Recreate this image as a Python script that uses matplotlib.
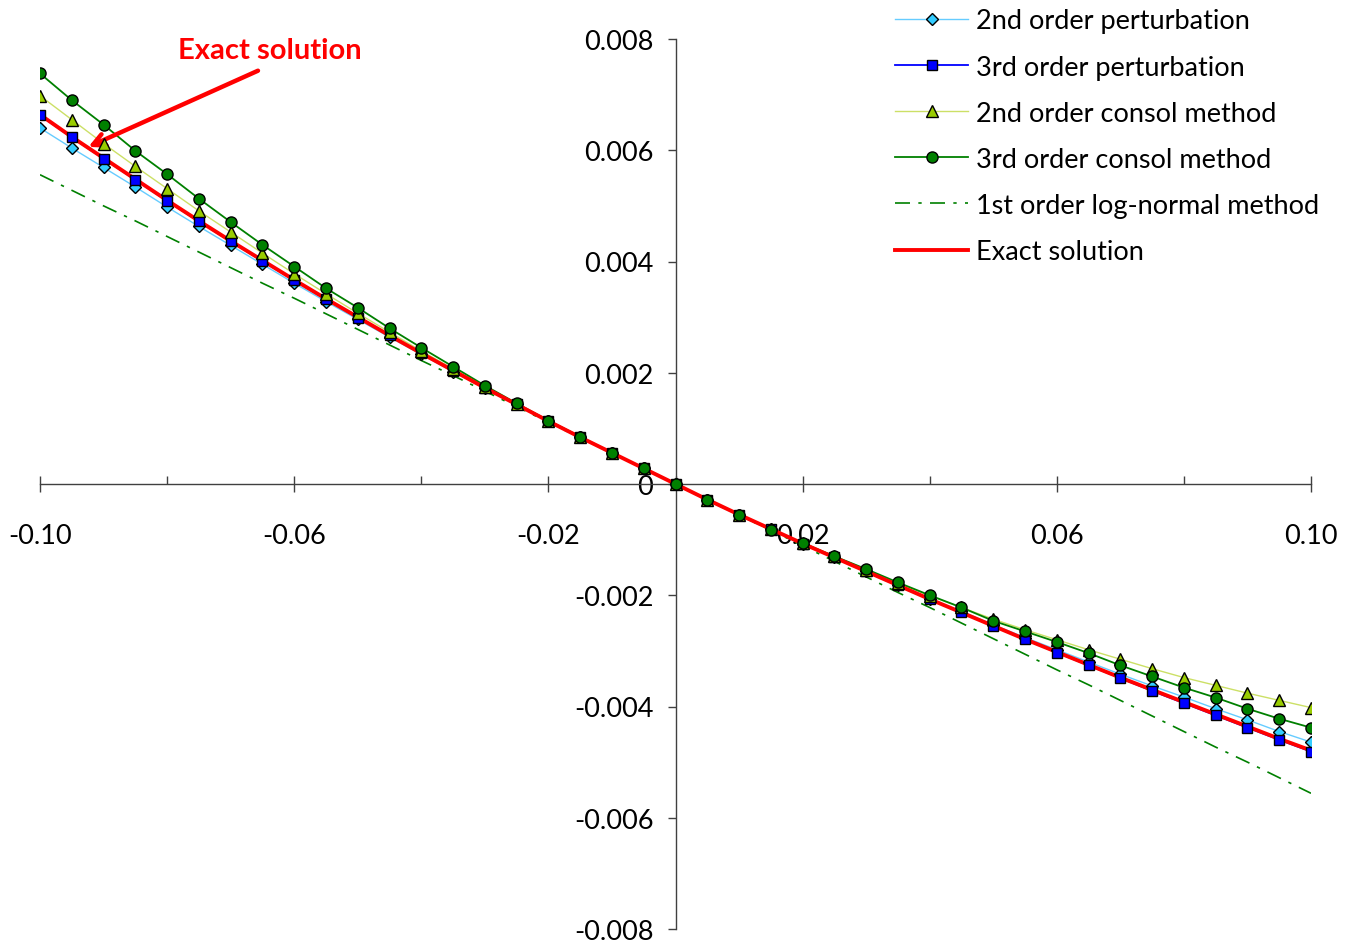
import numpy as np
import matplotlib
matplotlib.use("Agg")
import matplotlib.pyplot as plt
from matplotlib.lines import Line2D

plt.rcParams['font.family'] = ['Lato', 'DejaVu Sans']

# shift values (x) and responses, responses in units of 1e-3
x = [-0.100, -0.095, -0.090, -0.085, -0.080, -0.075, -0.070, -0.065, -0.060, -0.055,
     -0.050, -0.045, -0.040, -0.035, -0.030, -0.025, -0.020, -0.015, -0.010, -0.005,
     0.000, 0.005, 0.010, 0.015, 0.020, 0.025, 0.030, 0.035, 0.040, 0.045,
     0.050, 0.055, 0.060, 0.065, 0.070, 0.075, 0.080, 0.085, 0.090, 0.095, 0.100]

pert2 = [6.40, 6.04, 5.69, 5.34, 4.98, 4.63, 4.29, 3.95, 3.61, 3.28,
         2.96, 2.64, 2.33, 2.02, 1.72, 1.43, 1.13, 0.84, 0.56, 0.28,
         0.00, -0.28, -0.55, -0.81, -1.07, -1.32, -1.57, -1.81, -2.06, -2.29,
         -2.53, -2.76, -2.98, -3.20, -3.42, -3.63, -3.83, -4.04, -4.24, -4.45, -4.64]

pert3 = [6.63, 6.23, 5.85, 5.47, 5.09, 4.72, 4.36, 4.01, 3.66, 3.32,
         2.99, 2.67, 2.35, 2.04, 1.73, 1.43, 1.13, 0.84, 0.56, 0.28,
         0.00, -0.28, -0.55, -0.81, -1.07, -1.32, -1.57, -1.82, -2.07, -2.31,
         -2.55, -2.79, -3.03, -3.26, -3.49, -3.72, -3.94, -4.16, -4.38, -4.60, -4.81]

consol2 = [6.98, 6.55, 6.12, 5.71, 5.31, 4.91, 4.53, 4.15, 3.78, 3.42,
           3.07, 2.73, 2.39, 2.07, 1.75, 1.44, 1.14, 0.85, 0.56, 0.28,
           0.00, -0.28, -0.55, -0.81, -1.06, -1.30, -1.54, -1.78, -2.01, -2.22,
           -2.43, -2.62, -2.80, -2.98, -3.15, -3.32, -3.48, -3.62, -3.76, -3.89, -4.02]

consol3 = [7.38, 6.90, 6.46, 5.99, 5.57, 5.13, 4.71, 4.30, 3.91, 3.52,
           3.17, 2.80, 2.45, 2.11, 1.77, 1.45, 1.14, 0.85, 0.56, 0.28,
           0.00, -0.28, -0.56, -0.82, -1.06, -1.30, -1.53, -1.77, -2.00, -2.22,
           -2.46, -2.65, -2.84, -3.04, -3.26, -3.46, -3.66, -3.84, -4.04, -4.22, -4.38]

lognormal1 = [5.56, 5.28, 5.00, 4.73, 4.45, 4.17, 3.89, 3.61, 3.34, 3.06,
              2.78, 2.50, 2.22, 1.95, 1.67, 1.39, 1.11, 0.83, 0.56, 0.28,
              0.00, -0.28, -0.56, -0.83, -1.11, -1.39, -1.67, -1.95, -2.22, -2.50,
              -2.78, -3.06, -3.34, -3.61, -3.89, -4.17, -4.45, -4.73, -5.00, -5.28, -5.56]

exact = [6.64, 6.24, 5.86, 5.48, 5.10, 4.73, 4.37, 4.02, 3.67, 3.33,
         3.00, 2.67, 2.35, 2.04, 1.73, 1.43, 1.13, 0.84, 0.56, 0.28,
         0.00, -0.28, -0.55, -0.81, -1.07, -1.32, -1.57, -1.82, -2.07, -2.31,
         -2.55, -2.79, -3.02, -3.25, -3.48, -3.70, -3.92, -4.14, -4.36, -4.58, -4.79]

labels = ['2nd order perturbation', '3rd order perturbation', '2nd order consol method',
          '3rd order consol method', '1st order log-normal method', 'Exact solution']

xticks_major = [-0.10, -0.06, -0.02, 0.02, 0.06, 0.10]
xticks_minor = [-0.08, -0.04, 0.0, 0.04, 0.08]
xtick_labels = ['-0.10', '-0.06', '-0.02', '0.02', '0.06', '0.10']
yticks = [-0.008, -0.006, -0.004, -0.002, 0.0, 0.002, 0.004, 0.006, 0.008]
ytick_labels = ['-0.008', '-0.006', '-0.004', '-0.002', '0', '0.002', '0.004', '0.006', '0.008']

x = np.array(x)
series = [np.array(s) * 1e-3 for s in (pert2, pert3, consol2, consol3)]
logn = np.array(lognormal1) * 1e-3
ex = np.array(exact) * 1e-3

styles = [
    dict(color='#66CCFF', lw=1.0, marker='D', mfc='#33CCFF', ms=6.5),
    dict(color='#0000FF', lw=1.3, marker='s', mfc='#0000FF', ms=7.5),
    dict(color='#CCE066', lw=1.0, marker='^', mfc='#99CC00', ms=8.5),
    dict(color='#008000', lw=1.3, marker='o', mfc='#008000', ms=8),
]

fs = 19.5

fig = plt.figure(figsize=(13.58, 9.45), dpi=100)
ax = fig.add_axes([40/1358, 15/945, (1311-40)/1358, (930-40)/945])

handles = []
for y, st in zip(series, styles):
    ax.plot(x, y, color=st['color'], lw=st['lw'], zorder=2)
    ax.plot(x, y, ls='none', marker=st['marker'], mfc=st['mfc'], mec='black',
            mew=1.0, ms=st['ms'], zorder=4)
    handles.append(Line2D([], [], color=st['color'], lw=st['lw'], marker=st['marker'],
                          mfc=st['mfc'], mec='black', mew=1.0, ms=st['ms']))

ax.plot(x, logn, color='#008000', lw=1.2, ls=(0, (9, 5, 2, 5)), zorder=2)
handles.append(Line2D([], [], color='#008000', lw=1.2, ls=(0, (9, 5, 2, 5))))
ax.plot(x, ex, color='#FF0000', lw=2.8, zorder=3)
handles.append(Line2D([], [], color='#FF0000', lw=2.8))

ax.set_xlim(-0.10, 0.10)
ax.set_ylim(-0.008, 0.008)

for side in ['top', 'right']:
    ax.spines[side].set_visible(False)
ax.spines['left'].set_position(('data', 0))
ax.spines['bottom'].set_position(('data', 0))
for side in ['left', 'bottom']:
    ax.spines[side].set_color('#404040')
    ax.spines[side].set_linewidth(1.0)

ax.set_xticks(xticks_major)
ax.set_xticklabels(xtick_labels)
ax.set_xticks(xticks_minor, minor=True)
ax.set_yticks(yticks)
ax.set_yticklabels(ytick_labels)

ax.tick_params(axis='x', which='major', direction='inout', length=12, width=1,
               color='#404040', pad=22, labelsize=fs)
ax.tick_params(axis='x', which='minor', direction='in', length=6, width=1, color='#404040')
ax.tick_params(axis='y', which='major', direction='out', length=6, width=1,
               color='#404040', pad=10, labelsize=fs)

# callout for the exact solution
ax.annotate('', xy=(-0.0924, 0.00606), xytext=(-0.0657, 0.00743),
            arrowprops=dict(arrowstyle='->', color='#FF0000', lw=3.2, mutation_scale=22,
                            shrinkA=0, shrinkB=0))
ax.text(-0.0638, 0.00781, 'Exact solution', ha='center', va='center', color='#FF0000',
        fontsize=21, fontweight='bold')

fig.legend(handles, labels, loc='upper left', bbox_to_anchor=(895/1358, 0.99),
           frameon=False, fontsize=fs, handlelength=2.7, handletextpad=0.3,
           labelspacing=0.78, borderpad=0, borderaxespad=0)

fig.savefig('out.png', dpi=100)
